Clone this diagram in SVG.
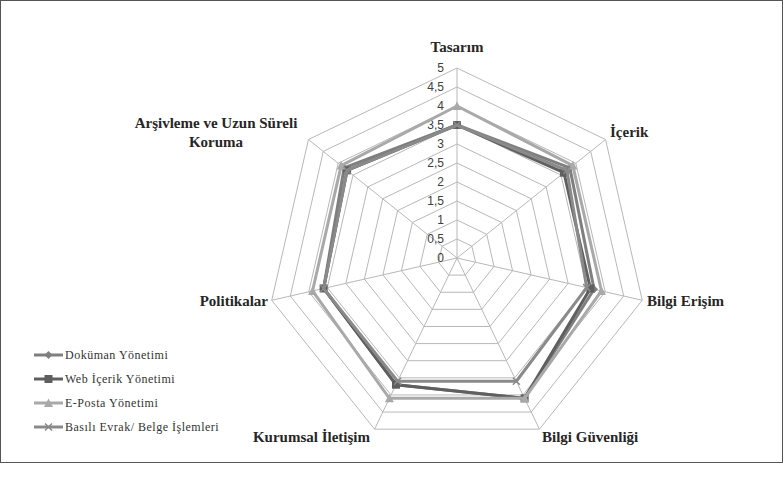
<svg xmlns="http://www.w3.org/2000/svg" width="784" height="491" viewBox="0 0 784 491">
<style>
.ring{fill:none;stroke:#b8b8b8;stroke-width:1;vector-effect:non-scaling-stroke}
.spoke{stroke:#b8b8b8;stroke-width:1}
.tick{font-family:"Liberation Sans",Arial,sans-serif;font-size:12px;fill:#404040;text-anchor:end}
.cat{font-family:"Liberation Serif","Times New Roman",serif;font-size:15px;font-weight:bold;fill:#262626}
.leg{font-family:"Liberation Serif","Times New Roman",serif;font-size:12px;fill:#333;letter-spacing:0.5px}
.s{fill:none;stroke-width:3;stroke-linejoin:round}
.dok{stroke:#7f7f7f}
.web{stroke:#5f5f5f}
.epo{stroke:#a9a9a9}
.bas{stroke:#8a8a8a}
</style>
<defs>
<marker id="mDia" markerUnits="userSpaceOnUse" markerWidth="10" markerHeight="10" refX="5" refY="5" overflow="visible"><path d="M5,1 L9,5 L5,9 L1,5 Z" fill="#7f7f7f"/></marker>
<marker id="mSq" markerUnits="userSpaceOnUse" markerWidth="10" markerHeight="10" refX="5" refY="5" overflow="visible"><rect x="1" y="1" width="8" height="8" fill="#5f5f5f"/></marker>
<marker id="mTri" markerUnits="userSpaceOnUse" markerWidth="10" markerHeight="10" refX="5" refY="5" overflow="visible"><path d="M5,0.5 L9.5,9 L0.5,9 Z" fill="#a9a9a9"/></marker>
<marker id="mX" markerUnits="userSpaceOnUse" markerWidth="10" markerHeight="10" refX="5" refY="5" overflow="visible"><path d="M1.5,1.5 L8.5,8.5 M8.5,1.5 L1.5,8.5" stroke="#8a8a8a" stroke-width="1.5"/></marker>
</defs>
<rect x="0.5" y="0.5" width="782" height="462" fill="#fff" stroke="#555" stroke-width="1"/>

<g id="grid">
<g transform="translate(457,258)">
<polygon class="ring" transform="scale(1)" points="0,-19 14.855,-11.846 18.524,4.228 8.244,17.118 -8.244,17.118 -18.524,4.228 -14.855,-11.846"/>
<polygon class="ring" transform="scale(2)" points="0,-19 14.855,-11.846 18.524,4.228 8.244,17.118 -8.244,17.118 -18.524,4.228 -14.855,-11.846"/>
<polygon class="ring" transform="scale(3)" points="0,-19 14.855,-11.846 18.524,4.228 8.244,17.118 -8.244,17.118 -18.524,4.228 -14.855,-11.846"/>
<polygon class="ring" transform="scale(4)" points="0,-19 14.855,-11.846 18.524,4.228 8.244,17.118 -8.244,17.118 -18.524,4.228 -14.855,-11.846"/>
<polygon class="ring" transform="scale(5)" points="0,-19 14.855,-11.846 18.524,4.228 8.244,17.118 -8.244,17.118 -18.524,4.228 -14.855,-11.846"/>
<polygon class="ring" transform="scale(6)" points="0,-19 14.855,-11.846 18.524,4.228 8.244,17.118 -8.244,17.118 -18.524,4.228 -14.855,-11.846"/>
<polygon class="ring" transform="scale(7)" points="0,-19 14.855,-11.846 18.524,4.228 8.244,17.118 -8.244,17.118 -18.524,4.228 -14.855,-11.846"/>
<polygon class="ring" transform="scale(8)" points="0,-19 14.855,-11.846 18.524,4.228 8.244,17.118 -8.244,17.118 -18.524,4.228 -14.855,-11.846"/>
<polygon class="ring" transform="scale(9)" points="0,-19 14.855,-11.846 18.524,4.228 8.244,17.118 -8.244,17.118 -18.524,4.228 -14.855,-11.846"/>
<polygon class="ring" transform="scale(10)" points="0,-19 14.855,-11.846 18.524,4.228 8.244,17.118 -8.244,17.118 -18.524,4.228 -14.855,-11.846"/>
</g>
<line class="spoke" x1="457" y1="258" x2="457" y2="68"/>
<line class="spoke" x1="457" y1="258" x2="605.55" y2="139.54"/>
<line class="spoke" x1="457" y1="258" x2="642.24" y2="300.28"/>
<line class="spoke" x1="457" y1="258" x2="539.44" y2="429.18"/>
<line class="spoke" x1="457" y1="258" x2="374.56" y2="429.18"/>
<line class="spoke" x1="457" y1="258" x2="271.76" y2="300.28"/>
<line class="spoke" x1="457" y1="258" x2="308.45" y2="139.54"/>
</g>

<g id="ticks">
<text class="tick" x="444" y="262">0</text>
<text class="tick" x="444" y="243">0,5</text>
<text class="tick" x="444" y="224">1</text>
<text class="tick" x="444" y="205">1,5</text>
<text class="tick" x="444" y="186">2</text>
<text class="tick" x="444" y="167">2,5</text>
<text class="tick" x="444" y="148">3</text>
<text class="tick" x="444" y="129">3,5</text>
<text class="tick" x="444" y="110">4</text>
<text class="tick" x="444" y="91">4,5</text>
<text class="tick" x="444" y="72">5</text>
</g>

<g id="connectors">
<polyline id="s-dokuman" class="s dok" marker-start="url(#mDia)" marker-mid="url(#mDia)" points="457,125 569.9,167.97 594.07,289.29 524.6,398.37 396,384.68 323.63,288.44 344.1,167.97 457,125"/>
<polyline id="s-web" class="s web" marker-start="url(#mSq)" marker-mid="url(#mSq)" points="457,125 563.95,172.71 590.37,288.44 524.6,398.37 396,384.68 323.63,288.44 347.08,170.34 457,125"/>
<polyline id="s-eposta" class="s epo" marker-start="url(#mTri)" marker-mid="url(#mTri)" points="457,106 572.87,165.6 601.48,290.98 524.6,398.37 389.4,398.37 312.52,290.98 341.13,165.6 457,106"/>
<polyline id="s-basili" class="s bas" marker-start="url(#mX)" marker-mid="url(#mX)" points="457,125 566.92,170.34 586.67,287.6 516.35,381.25 397.65,381.25 323.63,288.44 347.08,170.34 457,125"/>
</g>

<g id="cat-tasarim"><text class="cat" x="457" y="52" text-anchor="middle">Tasarım</text></g>
<g id="cat-icerik"><text class="cat" x="610" y="137">İçerik</text></g>
<g id="cat-bilgi-erisim"><text class="cat" x="647" y="306">Bilgi Erişim</text></g>
<g id="cat-bilgi-guvenligi"><text class="cat" x="542" y="442">Bilgi Güvenliği</text></g>
<g id="cat-kurumsal"><text class="cat" x="370" y="442" text-anchor="end">Kurumsal İletişim</text></g>
<g id="cat-politikalar"><text class="cat" x="268" y="306" text-anchor="end">Politikalar</text></g>
<g id="cat-arsivleme"><text class="cat" x="216" y="128" text-anchor="middle">Arşivleme ve Uzun Süreli</text><text class="cat" x="216" y="147" text-anchor="middle">Koruma</text></g>

<g id="legend">
<line x1="34" y1="355" x2="63" y2="355" stroke="#7f7f7f" stroke-width="3"/><path d="M48.5,351 L52.5,355 L48.5,359 L44.5,355 Z" fill="#7f7f7f"/>
<text class="leg" x="65" y="359">Doküman Yönetimi</text>
<line x1="34" y1="379" x2="63" y2="379" stroke="#5f5f5f" stroke-width="3"/><rect x="44.5" y="375" width="8" height="8" fill="#5f5f5f"/>
<text class="leg" x="65" y="383">Web İçerik Yönetimi</text>
<line x1="34" y1="403" x2="63" y2="403" stroke="#a9a9a9" stroke-width="3"/><path d="M48.5,398.5 L53,407 L44,407 Z" fill="#a9a9a9"/>
<text class="leg" x="65" y="407">E-Posta Yönetimi</text>
<line x1="34" y1="427" x2="63" y2="427" stroke="#8a8a8a" stroke-width="3"/><path d="M45,423.5 L52,430.5 M52,423.5 L45,430.5" stroke="#8a8a8a" stroke-width="1.5"/>
<text class="leg" x="65" y="431">Basılı Evrak/ Belge İşlemleri</text>
</g>
</svg>
